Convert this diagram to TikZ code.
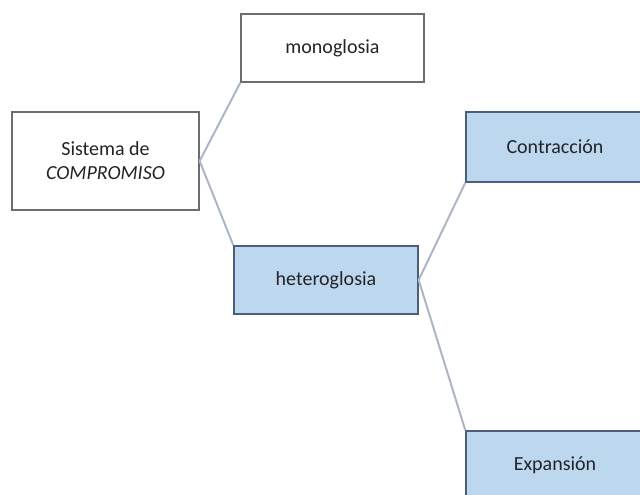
\documentclass[tikz,border=0pt]{standalone}
\usepackage{fontspec}
\setmainfont{Carlito}
\definecolor{boxblue}{RGB}{189,215,238}
\definecolor{blueedge}{RGB}{75,95,125}
\definecolor{grayedge}{RGB}{105,110,115}
\definecolor{linkcol}{RGB}{172,182,198}
\definecolor{txt}{RGB}{35,35,40}
\tikzset{
  base/.style={rectangle, inner sep=0pt, line width=1.3pt, text=txt,
    font=\fontsize{20}{24}\selectfont, align=center},
  whitebox/.style={base, draw=grayedge, fill=white},
  bluebox/.style={base, draw=blueedge, fill=boxblue},
  link/.style={draw=linkcol, line width=2pt}
}
\begin{document}
\begin{tikzpicture}[x=1pt,y=-1pt]
\useasboundingbox (0,0) rectangle (640,495);
\begin{scope}
\clip (0,0) rectangle (640,495);
\node[whitebox, minimum width=187pt, minimum height=98pt] (sis) at (105.5,161) {Sistema de\\\textit{COMPROMISO}};
\node[whitebox, minimum width=183pt, minimum height=68pt] (mono) at (332.5,48) {monoglosia};
\node[bluebox, minimum width=184pt, minimum height=68pt] (het) at (326,280) {heteroglosia};
\node[bluebox, minimum width=178pt, minimum height=70pt] (con) at (555,147) {Contracción};
\node[bluebox, minimum width=178pt, minimum height=68pt] (exp) at (555,465) {Expansión};
\draw[link] (sis.east) -- (mono.south west);
\draw[link] (sis.east) -- (het.north west);
\draw[link] (het.east) -- (con.south west);
\draw[link] (het.east) -- (exp.north west);
\end{scope}
\end{tikzpicture}
\end{document}
